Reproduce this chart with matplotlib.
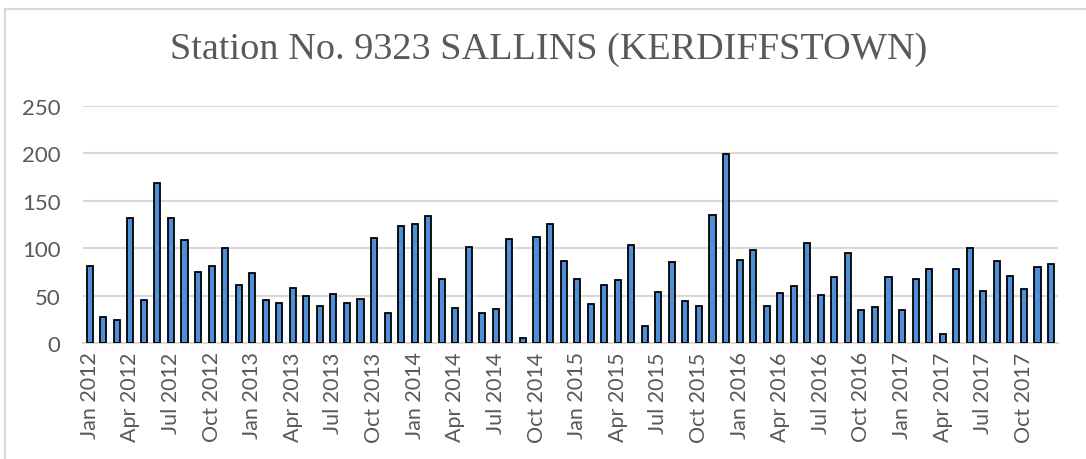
import matplotlib.pyplot as plt
from matplotlib.patches import Rectangle
import numpy as np

# monthly values, Jan 2012 .. Dec 2017
years = [2012, 2013, 2014, 2015, 2016, 2017]
month_names = ['Jan', 'Feb', 'Mar', 'Apr', 'May', 'Jun',
               'Jul', 'Aug', 'Sep', 'Oct', 'Nov', 'Dec']
v2012 = [81, 27, 24, 132, 45, 169, 132, 109, 75, 81, 100, 61]
v2013 = [74, 45, 42, 58, 50, 39, 52, 42, 46, 111, 32, 123]
v2014 = [126, 134, 68, 37, 101, 32, 36, 110, 5, 112, 126, 87]
v2015 = [67, 41, 61, 66, 103, 18, 54, 85, 44, 39, 135, 199]
v2016 = [88, 98, 39, 53, 60, 106, 51, 70, 95, 35, 38, 70]
v2017 = [35, 68, 78, 10, 78, 100, 55, 86, 71, 57, 80, 83]

values = v2012 + v2013 + v2014 + v2015 + v2016 + v2017
labels = [f'{m} {y}' for y in years for m in month_names]

title = 'Station No. 9323 SALLINS (KERDIFFSTOWN)'
grey = '#595959'

fig = plt.figure(figsize=(10.86, 4.6), dpi=100)
ax = fig.add_axes([0.0764, 0.2522, 0.8976, 0.5152])

# outer chart frame (runs off the right/bottom of the image)
fig.patches.append(Rectangle((5 / 1086, -0.1), 1.2, 1 - 10 / 460 + 0.1,
                             transform=fig.transFigure, fill=False,
                             edgecolor='#d9d9d9', linewidth=1.5))

x = np.arange(len(values))
ax.bar(x, values, width=0.45, color='#4f8fd6', edgecolor='black',
       linewidth=1.3, zorder=3)

ax.set_xlim(-0.5, len(values) - 0.5)
ax.set_ylim(0, 250)
ax.set_yticks(np.arange(0, 251, 50))
ax.yaxis.grid(True, color='#d9d9d9', linewidth=1.5, zorder=0)
ax.set_axisbelow(True)

for s in ['top', 'right', 'left']:
    ax.spines[s].set_visible(False)
ax.spines['bottom'].set_color('#d9d9d9')
ax.spines['bottom'].set_linewidth(1.5)

ax.set_xticks(x[::3])
ax.set_xticklabels(labels[::3], rotation=90, fontsize=15.5,
                   color=grey, family='Lato')
ax.tick_params(axis='x', length=0, pad=6)
ax.tick_params(axis='y', length=0, pad=16, labelsize=16, labelcolor=grey)
for t in ax.get_yticklabels():
    t.set_family('Lato')

fig.text(0.5055, 1 - 50 / 460, title, ha='center', va='center',
         fontsize=27.5, color=grey, family='Liberation Serif')

plt.savefig('out.png', dpi=100)
